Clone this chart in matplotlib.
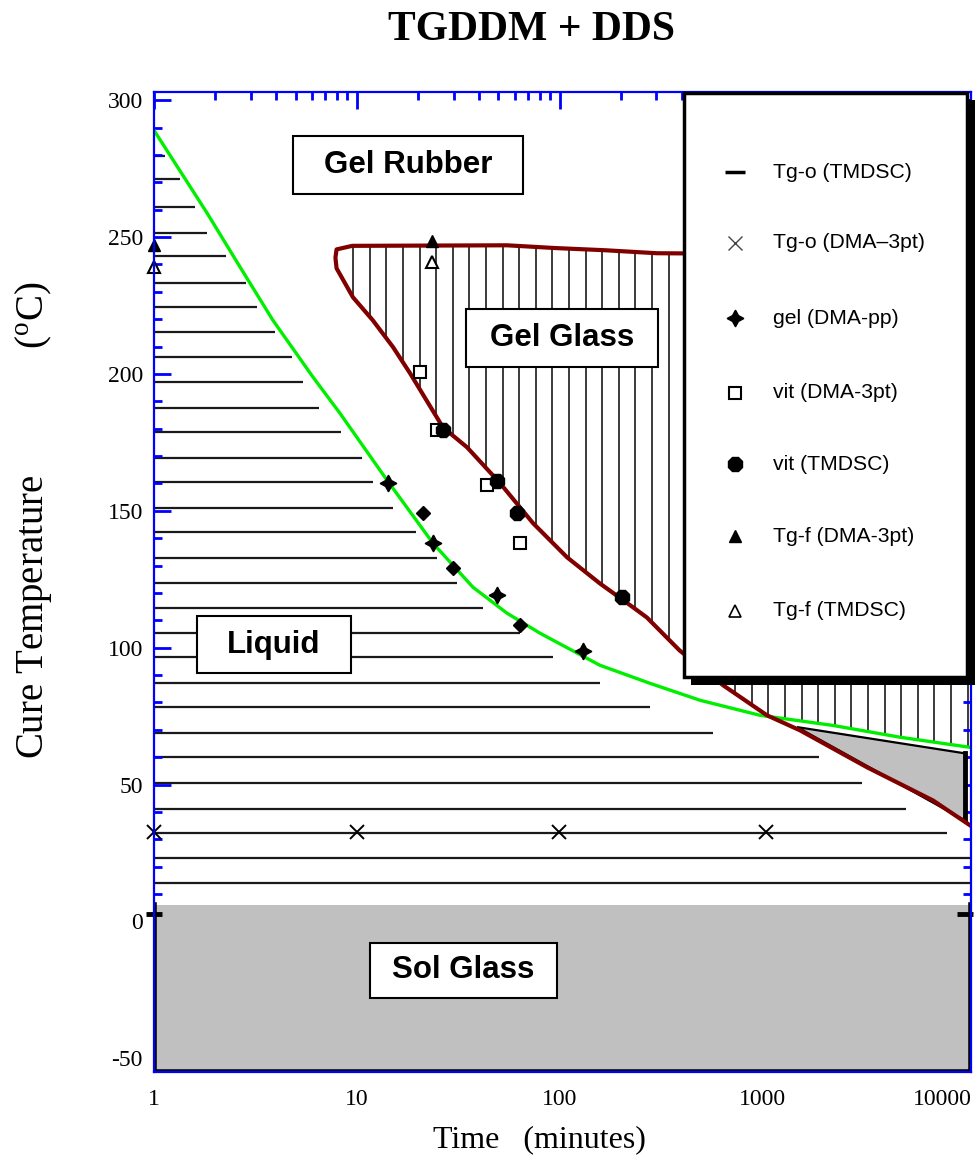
import numpy as np
import matplotlib
matplotlib.use('Agg')
import matplotlib.pyplot as plt
from matplotlib.patches import Rectangle
from matplotlib.lines import Line2D
from matplotlib.transforms import ScaledTranslation
from matplotlib.ticker import LogLocator, MultipleLocator, NullFormatter

# ---------------- data ----------------
# gelation curve (green)
gel_t = [1.0, 1.83, 2.66, 3.86, 6.09, 8.27, 14.1, 23.8, 37.4, 55.1, 80.1, 158, 279, 493, 975, 2234, 4778, 10590]
gel_T = [289, 258.7, 239, 219.6, 198.8, 185.6, 161.2, 138.1, 122.1, 112.6, 105.3, 93.6, 87, 80.8, 75.3, 71.6, 67.3, 63.6]

# vitrification curve (maroon): upper branch, nose, lower branch
vit_top_t = [7.95, 9.5, 55, 95, 167, 302, 10600]
vit_top_T = [245.5, 246.8, 247, 246, 245.2, 244.1, 243.4]
vit_nose_t = [7.85]
vit_nose_T = [242.5]
vit_low_t = [7.95, 9.58, 12.0, 15.1, 18.3, 26.6, 35.0, 50.9, 74, 109, 158, 230, 270, 391, 640, 1055, 1536, 3289, 6950, 10590]
vit_low_T = [238.6, 228, 219.6, 209.8, 200.3, 180.5, 173.2, 160.1, 145.5, 133.0, 123.5, 114.8, 111.0, 99.0, 86.3, 75.3, 69.8, 56.3, 44.2, 35.1]

# sol glass region (below Tg0)
sol_top_T = 6.0
sol_bottom_T = -55.0

# grey triangle between the curves at long times
tri_t = [1484, 10000, 10000]
tri_T = [71.0, 61.4, 36.9]

# horizontal hatch lines in the liquid region: level and end time
liq_T = [279.5, 271.1, 260.9, 251.4, 243.0, 233.1, 224.4, 215.2, 206.1, 197.0,
         187.5, 178.7, 169.2, 160.4, 150.9, 142.2, 132.7, 123.5, 114.4, 105.3,
         96.5, 87.0, 78.2, 68.7, 60.0, 50.5, 41.0, 32.2, 23.1, 14.0]
liq_end = [1.13, 1.34, 1.59, 1.83, 2.26, 2.84, 3.22, 3.95, 4.79, 5.43,
           6.51, 8.36, 10.6, 12.0, 15.1, 19.6, 24.9, 31.2, 42.0, 63.9,
           92.9, 158, 280, 571, 1905, 3105, 5117, 8150, 10700, 10700]

# data points
tgo_tmdsc_t = [1.0, 10000]
tgo_tmdsc_T = [2.9, 2.9]
tgo_dma_t = [1.0, 10.05, 99.6, 1045]
tgo_dma_T = [32.5, 32.5, 32.5, 32.5]
gel_pp_t = [14.3, 23.8, 49.2, 130.6]
gel_pp_T = [160.1, 138.1, 119.1, 98.7]
gel_other_t = [21.2, 29.8, 63.9]
gel_other_T = [149.1, 129.0, 108.2]
vit_dma_t = [20.5, 24.9, 43.9, 63.9]
vit_dma_T = [200.6, 179.4, 159.3, 138.1]
vit_tmdsc_t = [26.6, 49.2, 61.7, 203]
vit_tmdsc_T = [179.4, 160.8, 149.1, 118.4]
tgf_dma_t = [1.0, 23.5]
tgf_dma_T = [247, 248.5]
tgf_tmdsc_t = [1.0, 23.5]
tgf_tmdsc_T = [239, 240.8]

xticks = [1, 10, 100, 1000, 10000]
xticklabels = ['1', '10', '100', '1000', '10000']
yticks = [-50, 0, 50, 100, 150, 200, 250, 300]

legend_labels = ['Tg-o (TMDSC)', 'Tg-o (DMA\u20133pt)', 'gel (DMA-pp)', 'vit (DMA-3pt)',
                 'vit (TMDSC)', 'Tg-f (DMA-3pt)', 'Tg-f (TMDSC)']

# ---------------- figure ----------------
W, H = 980, 1166
SERIF = ['Liberation Serif', 'DejaVu Serif']
SANS = ['Liberation Sans', 'DejaVu Sans']
plt.rcParams['font.family'] = SERIF
plt.rcParams['axes.unicode_minus'] = False
plt.rcParams['mathtext.fontset'] = 'custom'
plt.rcParams['mathtext.rm'] = 'Liberation Serif'

fig = plt.figure(figsize=(W / 100, H / 100), dpi=100)
XMAX = 10700
ax = fig.add_axes([154 / W, 1 - 1072 / H, 817 / W, 980 / H])
ax.set_xscale('log')
ax.set_xlim(1, XMAX)
ax.set_ylim(-55, 303)

def fx(px):
    return px / W

def fy(py):
    return 1 - py / H

# liquid hatch (horizontal lines)
ax.hlines(liq_T, 1, liq_end, colors='#1a1a1a', lw=1.6, zorder=1)

# gel glass hatch (vertical lines), bounded by vitrification top and max(vit, gel) below
lg_gel = np.log10(gel_t)
lg_top = np.log10(vit_top_t)
lg_low = np.log10(vit_low_t)
vpos = np.arange(np.log10(9.6), np.log10(XMAX), 0.0819)
for lt in vpos:
    top = np.interp(lt, lg_top, vit_top_T)
    bot = max(np.interp(lt, lg_low, vit_low_T), np.interp(lt, lg_gel, gel_T))
    ax.vlines(10 ** lt, bot, top, colors='#1a1a1a', lw=1.2, zorder=1)

# sol glass region
ax.fill_between([1, XMAX], sol_bottom_T, sol_top_T, color='#c0c0c0', lw=0, zorder=2)
ax.plot([1, 1, XMAX, XMAX], [sol_top_T, sol_bottom_T, sol_bottom_T, sol_top_T],
        color='black', lw=4, zorder=2.5, solid_joinstyle='miter')

# grey triangle
ax.fill(tri_t, tri_T, fc='#c0c0c0', ec='black', lw=1.6, zorder=2.6)
ax.plot([tri_t[1], tri_t[2]], [tri_T[1], tri_T[2]], color='black', lw=3.5, zorder=2.7)

# curves
ax.plot(gel_t, gel_T, color='#00ee00', lw=2.4, zorder=3)
vit_t = vit_top_t[::-1] + vit_nose_t + vit_low_t
vit_T = vit_top_T[::-1] + vit_nose_T + vit_low_T
ax.plot(vit_t, vit_T, color='#800000', lw=3.0, zorder=3.1, solid_joinstyle='round')

# markers
mk = dict(linestyle='none', zorder=4, clip_on=False)
ax.plot(tgo_tmdsc_t, tgo_tmdsc_T, marker='_', ms=12, mew=3.5, color='black', **mk)
ax.plot(tgo_dma_t, tgo_dma_T, marker='x', ms=10, mew=1.4, color='black', **mk)
ax.plot(gel_pp_t, gel_pp_T, marker=(4, 1, 0), ms=12, color='black', **mk)
ax.plot(gel_other_t, gel_other_T, marker='D', ms=7, color='black', **mk)
ax.plot(vit_dma_t, vit_dma_T, marker='s', ms=8, mfc='white', mec='black', mew=1.5, **mk)
ax.plot(vit_tmdsc_t, vit_tmdsc_T, marker='8', ms=11, color='black', **mk)
ax.plot(tgf_dma_t, tgf_dma_T, marker='^', ms=9, color='black', **mk)
ax.plot(tgf_tmdsc_t, tgf_tmdsc_T, marker='^', ms=9, mfc='white', mec='black', mew=1.5, **mk)

# axes styling
for s in ax.spines.values():
    s.set_color('#0000ff')
    s.set_linewidth(1.6)
    s.set_zorder(5)
ax.set_xticks(xticks)
ax.set_xticklabels(xticklabels)
ax.xaxis.set_minor_locator(LogLocator(base=10, subs=np.arange(2, 10), numticks=20))
ax.xaxis.set_minor_formatter(NullFormatter())
ax.set_yticks(yticks)
ax.yaxis.set_minor_locator(MultipleLocator(10))
ax.tick_params(which='both', direction='in', top=True, right=True, color='#0000ff',
               labelcolor='black', labelsize=17)
ax.tick_params(which='major', length=12, width=2)
ax.tick_params(which='minor', length=6, width=2)
ax.tick_params(axis='x', which='major', pad=12)
ax.tick_params(axis='y', which='major', pad=8)
last = ax.get_xticklabels()[-1]
last.set_horizontalalignment('right')
last.set_transform(last.get_transform() + ScaledTranslation(7 / 100, 0, fig.dpi_scale_trans))

# region labels
def box_label(x0, y0, x1, y1, text):
    fig.add_artist(Rectangle((fx(x0), fy(y1)), (x1 - x0) / W, (y1 - y0) / H,
                             transform=fig.transFigure, fc='white', ec='black', lw=1.5, zorder=6))
    fig.text(fx((x0 + x1) / 2), fy((y0 + y1) / 2), text, ha='center', va='center',
             fontsize=22.5, fontweight='bold', family=SANS, zorder=7)

box_label(293, 136, 523, 194, 'Gel Rubber')
box_label(466, 309, 658, 367, 'Gel Glass')
box_label(197, 616, 351, 673, 'Liquid')
box_label(370, 943, 557, 998, 'Sol Glass')

# legend (shadowed box)
fig.add_artist(Rectangle((fx(691), fy(685)), (975 - 691) / W, (685 - 100) / H,
                         transform=fig.transFigure, fc='black', ec='black', lw=0, zorder=8))
fig.add_artist(Rectangle((fx(684), fy(677)), (967 - 684) / W, (677 - 93) / H,
                         transform=fig.transFigure, fc='white', ec='black', lw=2.5, zorder=8.1))
rows = [172, 243, 318, 393, 464, 536, 611]
leg_styles = [
    dict(marker='_', ms=14, mew=2.5, color='black'),
    dict(marker='x', ms=10, mew=1.0, color='#444444'),
    dict(marker=(4, 1, 0), ms=12, color='black'),
    dict(marker='s', ms=8, mfc='white', mec='black', mew=1.5),
    dict(marker='8', ms=11, color='black'),
    dict(marker='^', ms=8, color='black'),
    dict(marker='^', ms=8, mfc='white', mec='black', mew=1.2),
]
for ry, lab, st in zip(rows, legend_labels, leg_styles):
    fig.add_artist(Line2D([fx(735)], [fy(ry)], transform=fig.transFigure, linestyle='none',
                          zorder=9, **st))
    fig.text(fx(773), fy(ry), lab, ha='left', va='center', fontsize=15.2, family=SANS, zorder=9)

# titles and axis labels
fig.text(fx(531), fy(30), 'TGDDM + DDS', ha='center', va='center', fontsize=30,
         fontweight='bold', family=SERIF)
fig.text(fx(539), fy(1140), 'Time   (minutes)', ha='center', va='center', fontsize=23, family=SERIF)
fig.text(fx(34), fy(520), 'Cure Temperature' + ' ' * 13 + r'($^{\mathrm{o}}$C)', ha='center',
         va='center', rotation=90, fontsize=28, family=SERIF)

fig.savefig('out.png', dpi=100)
